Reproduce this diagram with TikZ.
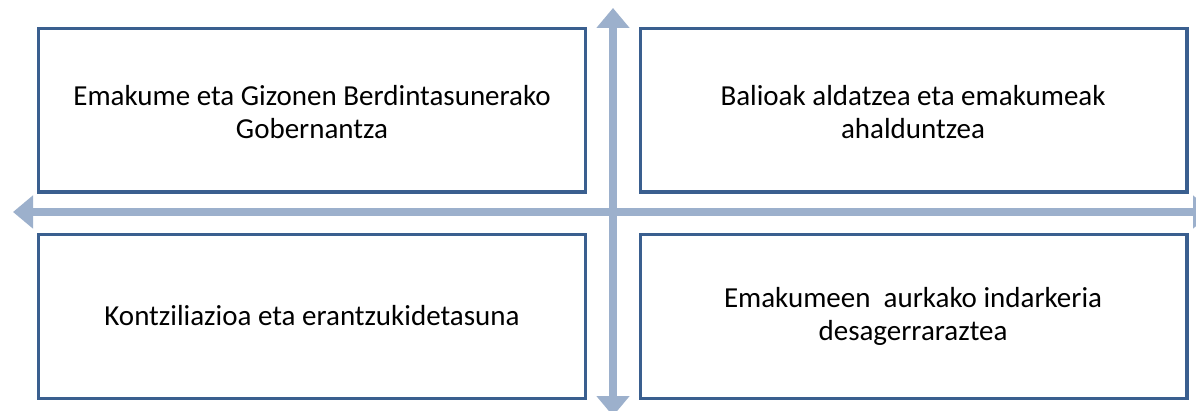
\documentclass[tikz,border=0pt]{standalone}
\usepackage{fontspec}
\setmainfont{Carlito}
\usetikzlibrary{arrows.meta}
\definecolor{boxblue}{HTML}{3A5F8F}
\definecolor{arrowblue}{HTML}{9CB0CC}
\tikzset{
  quad/.style={draw=boxblue, line width=3.6pt, fill=white},
  quadtext/.style={align=center, font=\fontsize{29}{33}\selectfont, text=black, inner sep=0pt},
  axis/.style={draw=arrowblue, line width=8pt, -{Triangle[width=32pt,length=20pt]}, shorten >=0pt},
}
\begin{document}
\begin{tikzpicture}[x=1pt,y=-1pt]
\useasboundingbox (0,0) rectangle (1196,411);
\clip (0,0) rectangle (1196,411);
\fill[white] (0,0) rectangle (1196,411);
% boxes
\draw[quad] (38.5,28.5) rectangle (585.5,192);
\draw[quad] (640.5,28.5) rectangle (1187,192);
\draw[quad] (38.5,234.5) rectangle (585.5,398.5);
\draw[quad] (640.5,234.5) rectangle (1187,398.5);
\node[quadtext] (t1) at (312,112) {Emakume eta Gizonen Berdintasunerako\\Gobernantza};
\node[quadtext] (t2) at (913,112) {Balioak aldatzea eta emakumeak\\ahalduntzea};
\node[quadtext] (t3) at (312,316) {Kontziliazioa eta erantzukidetasuna};
\node[quadtext] (t4) at (913,316) {Emakumeen\ \ aurkako indarkeria\\desagerraraztea};
% axes
\coordinate (hc) at (613,212);
\coordinate (hl) at (13,212);
\coordinate (hr) at (1213,212);
\coordinate (vt) at (613,8);
\coordinate (vb) at (613,416);
\draw[axis] (hc) -- (hl);
\draw[axis] (hc) -- (hr);
\draw[axis] (hc) -- (vt);
\draw[axis] (hc) -- (vb);
\end{tikzpicture}
\end{document}
